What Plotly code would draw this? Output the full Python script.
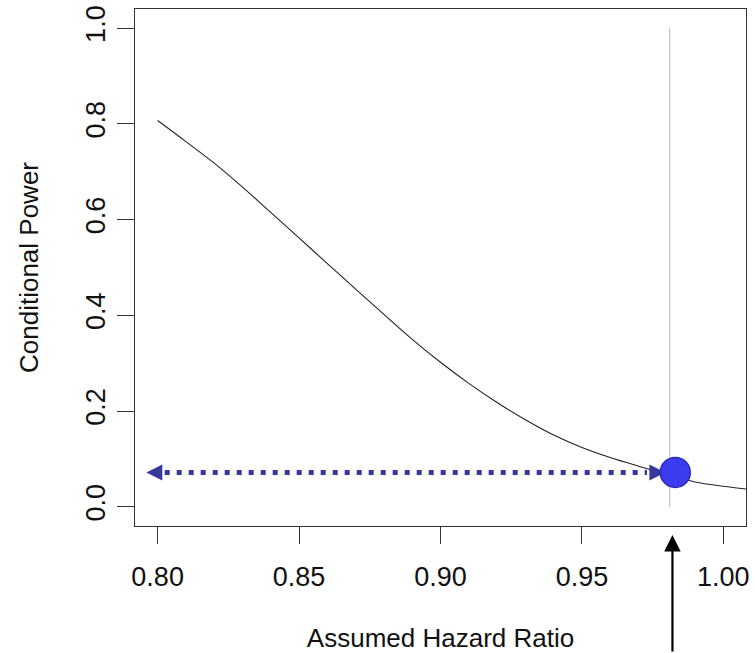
import plotly.graph_objects as go

# Conditional power curve
hazard_ratio = [0.80, 0.81, 0.82, 0.83, 0.84, 0.85, 0.86, 0.87, 0.88, 0.89, 0.90,
                0.91, 0.92, 0.93, 0.94, 0.95, 0.96, 0.97, 0.98, 0.99, 1.00, 1.01]
cond_power = [0.807, 0.763, 0.718, 0.668, 0.615, 0.562, 0.508, 0.455, 0.402, 0.350, 0.302,
              0.258, 0.218, 0.182, 0.150, 0.124, 0.103, 0.085, 0.068, 0.052, 0.043, 0.036]

# Observed hazard ratio reference line
observed_hr = 0.981
ref_line_y = [0.0, 1.0]

# Highlighted point and dotted arrow
point_x = 0.983
point_y = 0.072
arrow_left_x = 0.796
arrow_right_x = 0.9795

x_ticks = [0.80, 0.85, 0.90, 0.95, 1.00]
x_tick_labels = ["0.80", "0.85", "0.90", "0.95", "1.00"]
y_ticks = [0.0, 0.2, 0.4, 0.6, 0.8, 1.0]
y_tick_labels = ["0.0", "0.2", "0.4", "0.6", "0.8", "1.0"]

FONT = "Arial, 'Liberation Sans', sans-serif"
DOT_BLUE = "#38389c"

fig = go.Figure()

fig.add_trace(go.Scatter(
    x=[observed_hr, observed_hr], y=ref_line_y, mode="lines",
    line=dict(color="#c4c4c4", width=1.3), hoverinfo="skip", showlegend=False))

fig.add_trace(go.Scatter(
    x=hazard_ratio, y=cond_power, mode="lines",
    line=dict(color="#222222", width=1.1, shape="spline"), showlegend=False))

# dotted shaft
fig.add_trace(go.Scatter(
    x=[arrow_left_x + 0.0065, arrow_right_x - 0.0065], y=[point_y, point_y], mode="lines",
    line=dict(color=DOT_BLUE, width=5, dash="5px,7px"), showlegend=False))

# arrow heads
fig.add_trace(go.Scatter(
    x=[arrow_left_x, arrow_right_x], y=[point_y, point_y], mode="markers",
    marker=dict(symbol=["arrow-left", "arrow-right"], size=16, color=DOT_BLUE,
                line=dict(width=0)), showlegend=False))

# big blue dot
fig.add_trace(go.Scatter(
    x=[point_x], y=[point_y], mode="markers",
    marker=dict(size=30, color="#3c3cf0", line=dict(color="#2c2cb0", width=1.5)),
    showlegend=False))

fig.update_layout(
    width=755, height=653,
    margin=dict(l=135, r=9, t=9, b=127),
    paper_bgcolor="white", plot_bgcolor="white",
    font=dict(family=FONT, size=27, color="#111111"),
    xaxis=dict(
        range=[0.792, 1.008], tickvals=x_ticks, ticktext=x_tick_labels,
        automargin=False, ticklabeloverflow="allow",
        showgrid=False, zeroline=False, showline=True, mirror=True,
        linecolor="#333333", linewidth=1.4,
        ticks="outside", ticklen=17, tickwidth=1.4, tickcolor="#333333",
        ticklabelstandoff=9, tickfont=dict(size=27),
        title=dict(text="Assumed Hazard Ratio", standoff=38,
                   font=dict(family=FONT, size=26)),
    ),
    yaxis=dict(
        range=[-0.04, 1.04], tickvals=y_ticks, ticktext=y_tick_labels,
        automargin=False, ticklabeloverflow="allow",
        showgrid=False, zeroline=False, showline=True, mirror=True,
        linecolor="#333333", linewidth=1.4,
        ticks="outside", ticklen=17, tickwidth=1.4, tickcolor="#333333",
        tickangle=-90, ticklabelstandoff=1, tickfont=dict(size=27),
        title=dict(text="Conditional Power", standoff=34,
                   font=dict(family=FONT, size=26)),
    ),
)

# black vertical arrow beneath the axis
fig.add_annotation(
    x=0.982, xref="x", y=-0.0175, yref="paper", text="",
    showarrow=True, ax=0, ay=130, axref="pixel", ayref="pixel",
    arrowhead=2, arrowsize=1.5, arrowwidth=2.2, arrowcolor="#000000")

# remove the browser's default 8px page margin so the figure fills the window
fig.write_html("out.html", config={"displayModeBar": False},
               post_script="document.body.style.margin='0';")
